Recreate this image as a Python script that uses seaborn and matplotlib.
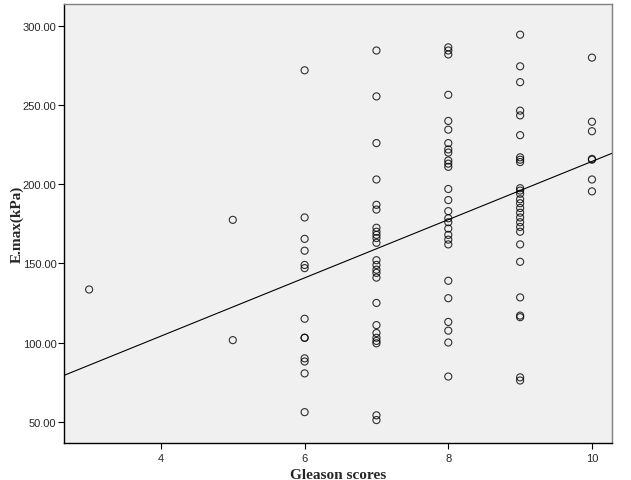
import numpy as np
import pandas as pd
import matplotlib
matplotlib.use("Agg")
import matplotlib.pyplot as plt
import seaborn as sns

# Emax values (kPa), grouped by Gleason score
emax_g3 = [133.5]
emax_g5 = [177.5, 101.5]
emax_g6 = [272, 179, 165.5, 158, 149, 147, 115, 103, 103, 90, 88, 80.5, 56]
emax_g7 = [284.5, 255.5, 226, 203, 187, 184, 172.5, 170, 168, 166, 163,
           152, 149, 146, 144, 141, 125, 111, 106, 103, 101, 99.5, 54, 51]
emax_g8 = [286.5, 284.5, 282, 256.5, 240, 234.5, 226, 222, 220, 215, 213, 211,
           197, 190, 183, 178.5, 176, 172, 168, 165, 162, 139, 128, 113, 107.5,
           100, 78.5]
emax_g9 = [294.5, 274.5, 264.5, 246.5, 243.5, 231, 217, 215.5, 214, 197.5, 196,
           194, 190.5, 188, 185, 182, 179, 176, 173, 170, 162, 151, 128.5, 117,
           116, 78, 76]
emax_g10 = [280, 239.5, 233.5, 216, 215.5, 203, 195.5]

groups = {3: emax_g3, 5: emax_g5, 6: emax_g6, 7: emax_g7,
          8: emax_g8, 9: emax_g9, 10: emax_g10}

x_ticks = [4, 6, 8, 10]
y_ticks = [50, 100, 150, 200, 250, 300]

rows = []
for g, vals in groups.items():
    for v in vals:
        rows.append({"gleason": g, "emax": v})
df = pd.DataFrame(rows)

sns.set_style("white")
plt.rcParams["font.family"] = ["Liberation Sans", "DejaVu Sans"]

fig = plt.figure(figsize=(6.31, 4.81), dpi=100)
ax = fig.add_axes([0.1014, 0.0769, 0.8686, 0.9131])
ax.set_facecolor("#f0f0f0")

# set limits first so the fitted line spans the whole axis
ax.set_xlim(2.65, 10.28)
ax.set_ylim(36.5, 314)

sns.regplot(data=df, x="gleason", y="emax", ax=ax, ci=None, truncate=False,
            scatter_kws={"facecolors": "none", "edgecolors": "black",
                         "linewidths": 0.8, "s": 26},
            line_kws={"color": "black", "linewidth": 0.8})

ax.set_xlim(2.65, 10.28)
ax.set_ylim(36.5, 314)

ax.set_xticks(x_ticks)
ax.set_xticklabels([str(t) for t in x_ticks])
ax.set_yticks(y_ticks)
ax.set_yticklabels([f"{t:.2f}" for t in y_ticks])
ax.tick_params(axis="both", direction="out", length=4, width=0.8,
               labelsize=8, color="black", bottom=True, left=True)
ax.tick_params(axis="y", pad=1.5)

for side in ["left", "bottom"]:
    ax.spines[side].set_color("black")
    ax.spines[side].set_linewidth(1.0)
for side in ["top", "right"]:
    ax.spines[side].set_color("#808080")
    ax.spines[side].set_linewidth(1.0)

ax.set_xlabel("Gleason scores", family="Liberation Serif", fontweight="bold",
              fontsize=11, labelpad=3)
ax.set_ylabel("E.max(kPa)", family="Liberation Serif", fontweight="bold",
              fontsize=11)
ax.yaxis.set_label_coords(-0.074, 0.5)

fig.savefig("out.png", dpi=100)
